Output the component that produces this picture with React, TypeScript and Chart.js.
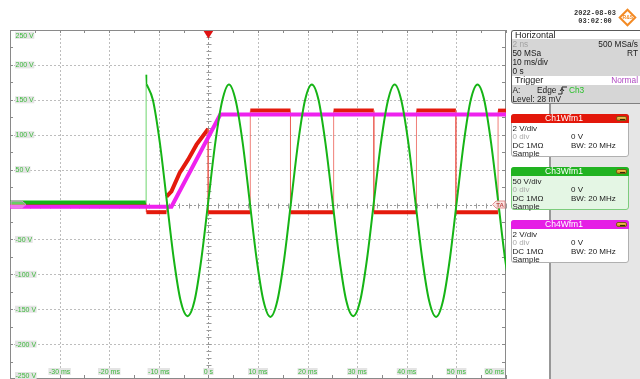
import React, { useEffect, useRef } from "react";
import { Chart, registerables } from "chart.js";

Chart.register(...registerables);

// ---- axes (time in ms, Ch3 volts at 50 V/div, Ch1/Ch4 volts at 2 V/div) ----
const X_MIN = -40;
const X_MAX = 60;
const X_GRID = [-30, -20, -10, 0, 10, 20, 30, 40, 50];
const X_TICK_VALUES = [-30, -20, -10, 0, 10, 20, 30, 40, 50, 60];
const X_TICK_LABELS = ["-30 ms", "-20 ms", "-10 ms", "0 s", "10 ms", "20 ms", "30 ms", "40 ms", "50 ms", "60 ms"];
const Y_MIN = -250;
const Y_MAX = 250;
const Y_GRID = [200, 150, 100, 50, 0, -50, -100, -150, -200];
const Y_TICK_VALUES = [250, 200, 150, 100, 50, 0, -50, -100, -150, -200, -250];
const Y_TICK_LABELS = ["250 V", "200 V", "150 V", "100 V", "50 V", "0 V", "-50 V", "-100 V", "-150 V", "-200 V", "-250 V"];
const CH_MIN = -10;
const CH_MAX = 10;
const X_MINOR_EDGE = 5; // ms between edge ticks
const Y_MINOR_EDGE = 25; // V between edge ticks
const X_MINOR_CENTER = 2;
const Y_MINOR_CENTER = 10;

// ---- Ch3 (green, 50 V/div) ----
const CH3_STEP_T = [-40, -12.55, -12.55, -12.45];
const CH3_STEP_V = [2.9, 2.9, 186, 172];
const CH3_T = [-12.45, -11.2, -9.8, -8.4, -7.0, -5.6, -4.2, -2.8, -1.4, 0, 1.4, 2.8, 4.15, 5.5, 6.9, 8.3, 9.7, 11.1, 12.5, 13.9, 15.3, 16.7, 18.1, 19.5, 20.85, 22.2, 23.6, 25.0, 26.4, 27.8, 29.2, 30.6, 32.0, 33.4, 34.8, 36.2, 37.55, 38.9, 40.3, 41.7, 43.1, 44.5, 45.9, 47.3, 48.7, 50.1, 51.5, 52.9, 54.25, 55.6, 57.0, 58.4, 59.8, 61.2];
const CH3_V = [172, 150, 89, 6, -77, -138, -160, -138, -77, 6, 89, 149, 172, 149, 89, 6, -77, -138, -161, -138, -77, 6, 89, 150, 172, 150, 88, 6, -77, -138, -160, -138, -77, 6, 89, 149, 172, 149, 89, 6, -77, -138, -161, -138, -77, 6, 89, 150, 172, 150, 88, 6, -77, -138];

// ---- Ch1 (red, 2 V/div) ----
const CH1_T = [-40, -12.5, -12.5, -8.45, -8.45, -7.45, -5.8, -4.1, -2.4, -0.05, -0.05, 8.45, 8.45, 16.55, 16.55, 25.25, 25.25, 33.35, 33.35, 41.95, 41.95, 49.9, 49.9, 58.4, 58.4, 60];
const CH1_V = [0, 0, -0.44, -0.44, 0.45, 0.75, 1.81, 2.57, 3.43, 4.33, -0.44, -0.44, 5.38, 5.38, -0.44, -0.44, 5.38, 5.38, -0.44, -0.44, 5.38, 5.38, -0.44, -0.44, 5.38, 5.38];

// ---- Ch4 (magenta, 2 V/div) ----
const CH4_T = [-40, -7.45, 2.4, 60];
const CH4_V = [-0.13, -0.13, 5.16, 5.16];

const GREEN = "#16b416";
const RED = "#e41a0c";
const MAGENTA = "#ee22ee";
const LABEL_GREEN = "#3cba3c";
const FONT = '"Liberation Sans", Arial, sans-serif';

const pts = (t: number[], v: number[]) => t.map((x, i) => ({ x, y: v[i] }));

const vertical = (ctx: any) => ctx.p0.parsed.x === ctx.p1.parsed.x;

const scopePlugin = {
  id: "scope",
  beforeDatasetsDraw(chart: any) {
    const { ctx, chartArea: a, scales } = chart;
    const x = scales.x;
    const y = scales.y;
    const line = (x1: number, y1: number, x2: number, y2: number) => {
      ctx.beginPath();
      ctx.moveTo(x1, y1);
      ctx.lineTo(x2, y2);
      ctx.stroke();
    };
    ctx.save();
    ctx.lineWidth = 1;
    // dotted grid
    ctx.strokeStyle = "#bdbdbd";
    ctx.setLineDash([2, 2]);
    for (const v of X_GRID) {
      if (v === 0) continue;
      const px = Math.round(x.getPixelForValue(v)) + 0.5;
      line(px, a.top, px, a.bottom);
    }
    for (const v of Y_GRID) {
      if (v === 0) continue;
      const py = Math.round(y.getPixelForValue(v)) + 0.5;
      line(a.left, py, a.right, py);
    }
    // centre lines
    const x0 = Math.round(x.getPixelForValue(0)) + 0.5;
    const y0 = Math.round(y.getPixelForValue(0)) + 0.5;
    ctx.strokeStyle = "#9a9a9a";
    line(x0, a.top, x0, a.bottom);
    line(a.left, y0, a.right, y0);
    ctx.setLineDash([]);
    for (let t = X_MIN; t <= X_MAX; t += X_MINOR_CENTER) {
      const px = Math.round(x.getPixelForValue(t)) + 0.5;
      line(px, y0 - 2, px, y0 + 3);
    }
    for (let v = Y_MIN; v <= Y_MAX; v += Y_MINOR_CENTER) {
      const py = Math.round(y.getPixelForValue(v)) + 0.5;
      line(x0 - 2, py, x0 + 3, py);
    }
    // border
    ctx.strokeStyle = "#8a8a8a";
    ctx.strokeRect(Math.round(a.left) + 0.5, Math.round(a.top) + 0.5, Math.round(a.right - a.left) - 1, Math.round(a.bottom - a.top) - 1);
    for (let t = X_MIN; t <= X_MAX; t += X_MINOR_EDGE) {
      const px = Math.round(x.getPixelForValue(t)) + 0.5;
      line(px, a.top, px, a.top + 3);
      line(px, a.bottom, px, a.bottom - 4);
    }
    for (let v = Y_MIN; v <= Y_MAX; v += Y_MINOR_EDGE) {
      const py = Math.round(y.getPixelForValue(v)) + 0.5;
      line(a.left, py, a.left + 3, py);
      line(a.right, py, a.right - 4, py);
    }
    // tick labels
    ctx.font = "7px " + FONT;
    ctx.textBaseline = "middle";
    ctx.textAlign = "left";
    Y_TICK_VALUES.forEach((v, i) => {
      const txt = Y_TICK_LABELS[i];
      const w = ctx.measureText(txt).width;
      let cy = y.getPixelForValue(v);
      cy = Math.min(Math.max(cy, a.top + 5.3), a.bottom - 3.5);
      ctx.fillStyle = "#e4e4e4";
      ctx.fillRect(15, cy - 3.5, w + 1, 7);
      ctx.fillStyle = LABEL_GREEN;
      ctx.fillText(txt, 15.5, cy + 0.5);
    });
    X_TICK_VALUES.forEach((v, i) => {
      const txt = X_TICK_LABELS[i];
      const w = ctx.measureText(txt).width;
      let lx = x.getPixelForValue(v) - w / 2;
      lx = Math.min(lx, a.right - 2 - w);
      const cy = a.bottom - 7.5;
      ctx.fillStyle = "#e4e4e4";
      ctx.fillRect(lx - 0.5, cy - 3.5, w + 1, 7);
      ctx.fillStyle = LABEL_GREEN;
      ctx.fillText(txt, lx, cy + 0.5);
    });
    ctx.restore();
  },
  afterDatasetsDraw(chart: any) {
    const { ctx, chartArea: a, scales } = chart;
    const x0 = scales.x.getPixelForValue(0);
    const y0 = scales.y.getPixelForValue(0);
    ctx.save();
    // trigger position marker
    ctx.fillStyle = "#e01212";
    ctx.beginPath();
    ctx.moveTo(x0 - 4.8, a.top + 1);
    ctx.lineTo(x0 + 4.8, a.top + 1);
    ctx.lineTo(x0, a.top + 8.5);
    ctx.closePath();
    ctx.fill();
    // trigger level marker (right)
    const r = a.right - 1;
    ctx.fillStyle = "rgba(252,226,226,0.9)";
    ctx.strokeStyle = "#e39090";
    ctx.lineWidth = 1;
    ctx.beginPath();
    ctx.moveTo(r, y0 - 3.5);
    ctx.lineTo(r - 9, y0 - 3.5);
    ctx.lineTo(r - 12.5, y0);
    ctx.lineTo(r - 9, y0 + 3.5);
    ctx.lineTo(r, y0 + 3.5);
    ctx.closePath();
    ctx.fill();
    ctx.stroke();
    ctx.fillStyle = "#c04a4a";
    ctx.font = "bold 6px " + FONT;
    ctx.textAlign = "center";
    ctx.textBaseline = "middle";
    ctx.fillText("TA", r - 5, y0 + 0.5);
    // channel ground marker (left)
    const l = a.left + 1;
    ctx.fillStyle = "rgba(255,255,255,0.35)";
    ctx.strokeStyle = "rgba(226,140,226,0.9)";
    ctx.beginPath();
    ctx.moveTo(l, y0 - 3.5);
    ctx.lineTo(l + 11, y0 - 3.5);
    ctx.lineTo(l + 15, y0);
    ctx.lineTo(l + 11, y0 + 3.5);
    ctx.lineTo(l, y0 + 3.5);
    ctx.closePath();
    ctx.fill();
    ctx.stroke();
    ctx.restore();
  },
};

function ScopeChart() {
  const ref = useRef<HTMLCanvasElement | null>(null);
  useEffect(() => {
    if (!ref.current) return;
    const chart = new Chart(ref.current, {
      type: "line",
      data: {
        datasets: [
          {
            label: "Ch3Wfm1",
            data: pts(CH3_T, CH3_V),
            yAxisID: "y",
            borderColor: GREEN,
            borderWidth: 2,
            cubicInterpolationMode: "monotone",
            pointRadius: 0,
            order: 0,
          },
          {
            label: "Ch3Wfm1 pre",
            data: pts(CH3_STEP_T, CH3_STEP_V),
            yAxisID: "y",
            borderColor: GREEN,
            borderWidth: 4,
            tension: 0,
            pointRadius: 0,
            order: 0,
            segment: {
              borderWidth: (c: any) => (c.p0.parsed.x !== CH3_STEP_T[0] ? 1.2 : undefined),
              borderColor: (c: any) => (vertical(c) ? "#86dc86" : undefined),
            },
          },
          {
            label: "Ch4Wfm1",
            data: pts(CH4_T, CH4_V),
            yAxisID: "y4",
            borderColor: MAGENTA,
            borderWidth: 4,
            tension: 0,
            pointRadius: 0,
            order: 1,
          },
          {
            label: "Ch1Wfm1",
            data: pts(CH1_T, CH1_V),
            yAxisID: "y1",
            borderColor: RED,
            borderWidth: 4,
            borderCapStyle: "butt",
            tension: 0,
            pointRadius: 0,
            order: 2,
            segment: {
              borderWidth: (c: any) => (vertical(c) ? 1 : undefined),
              borderColor: (c: any) => (vertical(c) ? "rgba(236,96,86,0.8)" : undefined),
            },
          },
        ],
      },
      options: {
        animation: false,
        responsive: false,
        devicePixelRatio: 1,
        events: [],
        layout: { padding: { left: 10, right: 134, top: 30, bottom: 0 } },
        scales: {
          x: { type: "linear", min: X_MIN, max: X_MAX, display: false },
          y: { type: "linear", min: Y_MIN, max: Y_MAX, display: false },
          y1: { type: "linear", min: CH_MIN, max: CH_MAX, display: false },
          y4: { type: "linear", min: CH_MIN, max: CH_MAX, display: false },
        },
        plugins: { legend: { display: false }, tooltip: { enabled: false } },
      },
      plugins: [scopePlugin],
    } as any);
    return () => chart.destroy();
  }, []);
  return <canvas ref={ref} width={640} height={379} style={{ position: "absolute", left: 0, top: 0 }} />;
}

const txt = (top: number, left: number | null, s: React.ReactNode, extra: React.CSSProperties = {}) => (
  <div
    style={{
      position: "absolute",
      top,
      left: left === null ? undefined : left,
      height: 9,
      lineHeight: "9px",
      fontSize: 8.3,
      whiteSpace: "nowrap",
      color: "#1a1a1a",
      ...extra,
    }}
  >
    {s}
  </div>
);

function ChBox(props: { top: number; name: string; head: string; bg: string; border: string; vdiv: string }) {
  const { top, name, head, bg, border, vdiv } = props;
  const small = { fontSize: 8 };
  return (
    <div
      style={{
        position: "absolute",
        left: 511,
        top,
        width: 118,
        height: 43,
        boxSizing: "border-box",
        background: bg,
        border: `1px solid ${border}`,
        borderRadius: 3,
      }}
    >
      <div
        style={{
          position: "absolute",
          left: -1,
          top: -1,
          width: 118,
          height: 9,
          background: head,
          borderRadius: "3px 3px 0 0",
        }}
      />
      <div
        style={{
          position: "absolute",
          left: 0,
          top: -1,
          width: 104,
          height: 9,
          lineHeight: "9px",
          fontSize: 8.5,
          color: "#fff",
          textAlign: "center",
        }}
      >
        {name}
      </div>
      <div
        style={{
          position: "absolute",
          left: 104,
          top: 1,
          width: 11,
          height: 5,
          borderRadius: 2,
          background: "linear-gradient(#f2c45a, #c98a12)",
          border: "0.5px solid #7a5a10",
          boxSizing: "border-box",
        }}
      >
        <div style={{ position: "absolute", left: 2.5, top: 1.5, width: 5, height: 1, background: "#3a2a05" }} />
      </div>
      {txt(8.5, 0.5, vdiv, small)}
      {txt(17.3, 0.5, "0 div", { ...small, color: "#a9a9a9" })}
      {txt(17.3, 59, "0 V", small)}
      {txt(25.7, 0.5, "DC 1MΩ", small)}
      {txt(25.7, 59, "BW: 20 MHz", small)}
      {txt(34, 0.5, "Sample", small)}
    </div>
  );
}

export default function App() {
  return (
    <div
      style={{
        position: "absolute",
        left: 0,
        top: 0,
        width: 640,
        height: 379,
        background: "#fff",
        overflow: "hidden",
        fontFamily: FONT,
      }}
    >
      <ScopeChart />
      {/* side panel background */}
      <div
        style={{
          position: "absolute",
          left: 549,
          top: 103,
          width: 91,
          height: 276,
          background: "#e6e6e6",
          borderLeft: "2px solid #979797",
          boxSizing: "border-box",
        }}
      />
      {/* date / logo */}
      <div
        style={{
          position: "absolute",
          left: 565,
          top: 9,
          width: 60,
          textAlign: "center",
          font: 'bold 7px "Liberation Mono", "DejaVu Sans Mono", monospace',
          lineHeight: "8px",
          color: "#333",
        }}
      >
        2022-08-03
        <br />
        03:02:00
      </div>
      <div
        style={{
          position: "absolute",
          left: 621,
          top: 10.5,
          width: 13,
          height: 13,
          border: "2px solid #f38a24",
          boxSizing: "border-box",
          transform: "rotate(45deg)",
          background: "#fff",
        }}
      >
        <div
          style={{
            position: "absolute",
            left: -1,
            top: 1,
            width: 11,
            textAlign: "center",
            fontSize: 5,
            lineHeight: "6px",
            fontWeight: "bold",
            color: "#f38a24",
            transform: "rotate(-45deg)",
          }}
        >
          R&amp;S
        </div>
      </div>
      {/* Horizontal / Trigger box */}
      <div
        style={{
          position: "absolute",
          left: 511,
          top: 30,
          width: 132,
          height: 74,
          background: "#d6d6d6",
          borderLeft: "1.5px solid #5a5a5a",
          borderTop: "1px solid #5a5a5a",
          borderBottom: "1px solid #808080",
          borderRadius: "3px 0 0 4px",
          boxSizing: "border-box",
          overflow: "hidden",
        }}
      >
        <div style={{ position: "absolute", left: 0, top: 0, width: 132, height: 8, background: "#fff" }} />
        {txt(-0.5, 3, "Horizontal", { fontSize: 9 })}
        {txt(8.5, 0.5, "2 ns", { color: "#a3a3a3" })}
        {txt(8.5, null, "500 MSa/s", { right: 5 })}
        {txt(17.5, 0.5, "50 MSa")}
        {txt(17.5, null, "RT", { right: 5 })}
        {txt(26.5, 0.5, "10 ms/div")}
        {txt(35.5, 0.5, "0 s")}
        <div style={{ position: "absolute", left: 0, top: 45, width: 132, height: 8.5, background: "#fff" }} />
        {txt(45, 3, "Trigger", { fontSize: 9 })}
        {txt(45, null, "Normal", { right: 5, color: "#b04ac2" })}
        {txt(54.5, 0.5, "A:")}
        {txt(54.5, 25, "Edge")}
        <svg style={{ position: "absolute", left: 46, top: 55 }} width={9} height={9} viewBox="0 0 9 9">
          <polyline points="0,8 4,8 4,1 9,1" fill="none" stroke="#222" strokeWidth={1} />
          <polyline points="2,5 4,2.5 6,5" fill="none" stroke="#222" strokeWidth={1} />
        </svg>
        {txt(54.5, 57, "Ch3", { color: "#27c027" })}
        {txt(63.5, 0.5, "Level: 28 mV")}
      </div>
      <ChBox top={114} name="Ch1Wfm1" head="#e3170a" bg="#fff" border="#b0b0b0" vdiv="2 V/div" />
      <ChBox top={167} name="Ch3Wfm1" head="#21b321" bg="#e4f6e4" border="#7ccc7c" vdiv="50 V/div" />
      <ChBox top={220} name="Ch4Wfm1" head="#e51ee5" bg="#fff" border="#b0b0b0" vdiv="2 V/div" />
    </div>
  );
}
